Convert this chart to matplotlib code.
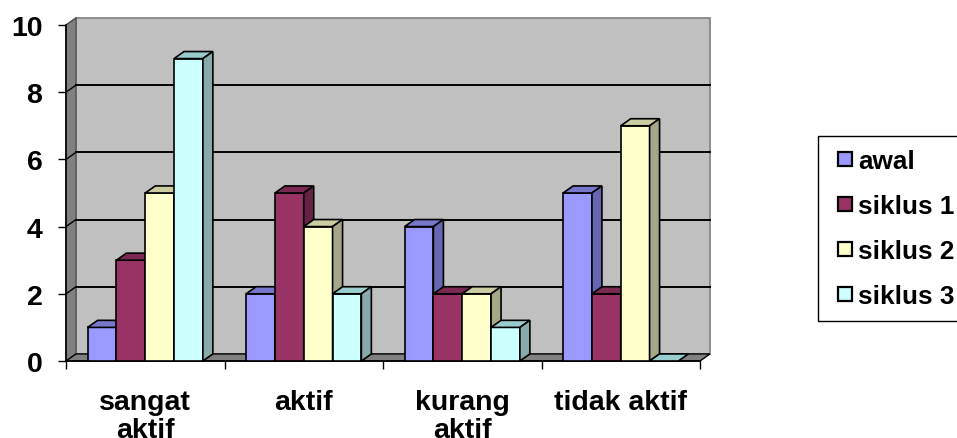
import matplotlib
matplotlib.use("Agg")
import matplotlib.pyplot as plt
from matplotlib.patches import Polygon, Rectangle
from matplotlib.lines import Line2D

plt.rcParams['font.family'] = ['Liberation Sans', 'DejaVu Sans']
plt.rcParams['font.weight'] = 'bold'

# ---- data ----
categories = ["sangat\naktif", "aktif", "kurang\naktif", "tidak aktif"]
series = ["awal", "siklus 1", "siklus 2", "siklus 3"]
awal = [1, 2, 4, 5]
siklus1 = [3, 5, 2, 2]
siklus2 = [5, 4, 2, 7]
siklus3 = [9, 2, 1, 0]
values = [awal, siklus1, siklus2, siklus3]
y_ticks = [0, 2, 4, 6, 8, 10]

# front / top / side shades per series
FRONT = ["#9999FF", "#993366", "#FFFFCC", "#CCFFFF"]
TOP = ["#7777CC", "#7A2952", "#CCCCA3", "#99CCCC"]
SIDE = ["#6666B3", "#662244", "#A6A688", "#88AAAA"]

WALL = "#C0C0C0"
SIDEWALL = "#808080"
FLOOR = "#808080"

# oblique depth offsets in data units
DX = 0.063
DY = 0.21
W = 1 / 5.5          # bar width
GAP = 0.75 * W       # space before first bar of a group

fig = plt.figure(figsize=(9.57, 4.39), dpi=100)
ax = fig.add_axes([66 / 957, 77 / 439, 634 / 957, 336 / 439])
ax.set_xlim(0, 4)
ax.set_ylim(0, 10)
for s in ax.spines.values():
    s.set_visible(False)
ax.patch.set_visible(False)

ymax = y_ticks[-1]
ncat = len(categories)

# back wall
ax.add_patch(Rectangle((DX, DY), ncat, ymax, facecolor=WALL, edgecolor="#7F7F7F",
                       lw=1.2, zorder=1, clip_on=False))
# left wall
ax.add_patch(Polygon([(0, 0), (0, ymax), (DX, ymax + DY), (DX, DY)], closed=True,
                     facecolor=SIDEWALL, edgecolor="#555555", lw=1.0, zorder=1, clip_on=False))
# floor
ax.add_patch(Polygon([(0, 0), (ncat, 0), (ncat + DX, DY), (DX, DY)], closed=True,
                     facecolor=FLOOR, edgecolor="black", lw=1.0, zorder=1, clip_on=False))

# gridlines on back and left walls
for v in y_ticks[1:-1]:
    ax.plot([DX, ncat + DX], [v + DY, v + DY], color="black", lw=1.4, zorder=2, clip_on=False)
    ax.plot([0, DX], [v, v + DY], color="black", lw=1.0, zorder=2, clip_on=False)
ax.plot([0, DX], [ymax, ymax + DY], color="#555555", lw=1.0, zorder=2, clip_on=False)

# columns
for i, vals in enumerate(values):
    xs = [j + GAP + i * W for j in range(ncat)]
    z = 3 + i
    ax.bar(xs, vals, width=W, align="edge", color=FRONT[i], edgecolor="black",
           lw=1.2, zorder=z, clip_on=False)
    for x0, h in zip(xs, vals):
        ax.add_patch(Polygon([(x0, h), (x0 + W, h), (x0 + W + DX, h + DY), (x0 + DX, h + DY)],
                             closed=True, facecolor=TOP[i], edgecolor="black", lw=1.2,
                             zorder=z, clip_on=False))
        if h > 0:
            ax.add_patch(Polygon([(x0 + W, 0), (x0 + W + DX, DY), (x0 + W + DX, h + DY), (x0 + W, h)],
                                 closed=True, facecolor=SIDE[i], edgecolor="black", lw=1.2,
                                 zorder=z, clip_on=False))

# front axis edges
ax.plot([0, 0], [0, ymax], color="black", lw=1.2, zorder=2.5, clip_on=False)
ax.plot([0, ncat], [0, 0], color="black", lw=1.2, zorder=2.5, clip_on=False)

# ticks and labels
ax.set_yticks(y_ticks)
ax.set_yticklabels([str(t) for t in y_ticks], fontsize=20.5, fontweight="bold")
ax.tick_params(axis="y", length=6, width=1, pad=11)
ax.set_xticks(range(ncat + 1))
ax.set_xticklabels([""] * (ncat + 1))
ax.tick_params(axis="x", which="major", length=6, width=1)
ax.set_xticks([j + 0.5 for j in range(ncat)], minor=True)
ax.set_xticklabels(categories, minor=True, fontsize=20.5, fontweight="bold", linespacing=1.12)
ax.tick_params(axis="x", which="minor", length=0, pad=20)

# legend
handles = [Line2D([], [], ls="none", marker="s", markersize=10.5, markerfacecolor=FRONT[i],
                  markeredgecolor="black", markeredgewidth=1.6) for i in range(len(series))]
leg = fig.legend(handles, series, loc="upper left", bbox_to_anchor=(818 / 957, 1 - 137 / 439),
                 bbox_transform=fig.transFigure, borderaxespad=0, frameon=True, fancybox=False,
                 edgecolor="black", framealpha=1, borderpad=0.5, handlelength=1.05,
                 handletextpad=0.0, labelspacing=0.8,
                 prop={"size": 18.8, "weight": "bold"})
leg.get_frame().set_linewidth(1.0)

fig.savefig("out.png", dpi=100)
